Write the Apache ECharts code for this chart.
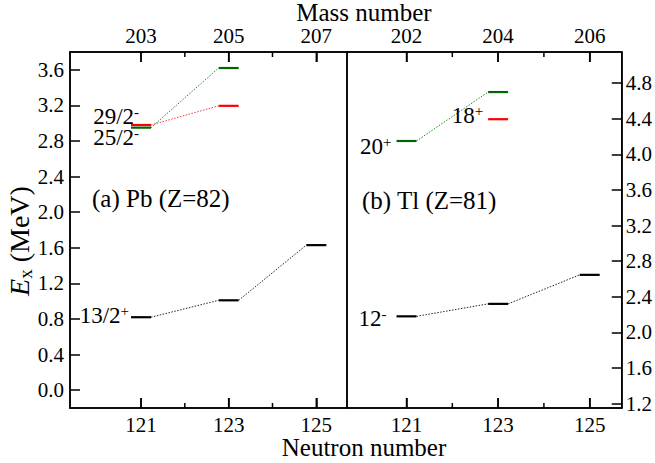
<!DOCTYPE html>
<html>
<head>
<meta charset="utf-8">
<script src="https://cdn.jsdelivr.net/npm/echarts@6/dist/echarts.min.js"></script>
<style>html,body{margin:0;padding:0;background:#fff;}#c{width:655px;height:463px;background:#fff;}</style>
</head>
<body>
<div id="c"></div>
<script>
// ---------- data ----------
const neutronTicks = [121, 123, 125];
const neutronMinorTicks = [122, 124];
const pbMassTicks = [203, 205, 207];
const pbMassMinorTicks = [204, 206];
const tlMassTicks = [202, 204, 206];
const tlMassMinorTicks = [203, 205];
const pbEnergyTicks = [0.0, 0.4, 0.8, 1.2, 1.6, 2.0, 2.4, 2.8, 3.2, 3.6];
const tlEnergyTicks = [1.2, 1.6, 2.0, 2.4, 2.8, 3.2, 3.6, 4.0, 4.4, 4.8];

// Pb (Z=82)
const pbN13 = [121, 123, 125];
const pbE13 = [0.82, 1.01, 1.63];      // 13/2+
const pbN29 = [121, 123];
const pbE29 = [2.98, 3.195];           // 29/2-
const pbN25 = [121, 123];
const pbE25 = [2.95, 3.62];            // 25/2-
// Tl (Z=81)
const tlN12 = [121, 123, 125];
const tlE12 = [2.18, 2.32, 2.646];     // 12-
const tlN20 = [121, 123];
const tlE20 = [4.15, 4.70];            // 20+
const tlN18 = [123];
const tlE18 = [4.395];                 // 18+

const pbZ = 82, tlZ = 81;
const levelLabels = { pb13: ['13/2', '+'], pb29: ['29/2', '-'], pb25: ['25/2', '-'],
                      tl12: ['12', '-'], tl20: ['20', '+'], tl18: ['18', '+'] };
const panelTitles = ['(a) Pb (Z=82)', '(b) Tl (Z=81)'];

// ---------- style ----------
const FONT = 'Liberation Serif';
const HW = 10;
const BLACK = '#000', GREEN = '#006400', RED = '#ff0000';

const bands = [
  { g: 0, n: pbN13, e: pbE13, color: BLACK, conn: '#222', label: levelLabels.pb13, dx: -2, dy: -2 },
  { g: 0, n: pbN29, e: pbE29, color: RED, conn: '#ff3333', label: levelLabels.pb29, dx: 8, dy: -8 },
  { g: 0, n: pbN25, e: pbE25, color: GREEN, conn: '#208a20', label: levelLabels.pb25, dx: 8, dy: 10 },
  { g: 1, n: tlN12, e: tlE12, color: BLACK, conn: '#222', label: levelLabels.tl12, dx: -10, dy: 2 },
  { g: 1, n: tlN20, e: tlE20, color: GREEN, conn: '#208a20', label: levelLabels.tl20, dx: -5, dy: 5 },
  { g: 1, n: tlN18, e: tlE18, color: RED, conn: '#ff3333', label: levelLabels.tl18, dx: -5, dy: -4 }
];

const fmt1 = v => (Math.round(v * 10) / 10).toFixed(1);
function tickStyle() { return { color: '#000', width: 1.5 }; }
function lineOn() { return { show: true, onZero: false, lineStyle: { color: '#000', width: 1.5 } }; }
function lbl(vals, margin) { return { customValues: vals, margin: margin, color: '#000', fontFamily: FONT, fontSize: 21 }; }

const rects = [
  { left: 70, top: 52, width: 277, height: 356 },
  { left: 347, top: 52, width: 276, height: 356 }
];
const xRanges = [[119.38, 125.7], [119.7, 125.7]];
const yRanges = [[-0.2, 3.8], [1.15, 5.15]];
const zs = [pbZ, tlZ];
const massMajor = [pbMassTicks, tlMassTicks];
const massMinor = [pbMassMinorTicks, tlMassMinorTicks];

const grid = [];
const xAxis = [];
for (let g = 0; g < 2; g++) {
  const [mn, mx] = xRanges[g];
  grid.push(Object.assign({ show: true, borderColor: '#000', borderWidth: 1.5 }, rects[g]));
  xAxis.push({ type: 'value', gridIndex: g, position: 'bottom', min: mn, max: mx, splitLine: { show: false }, axisLine: lineOn(),
    axisTick: { show: true, inside: true, length: 10, customValues: neutronTicks.slice(), lineStyle: tickStyle() },
    axisLabel: lbl(neutronTicks.slice(), 6) });
  xAxis.push({ type: 'value', gridIndex: g, position: 'top', min: mn + zs[g], max: mx + zs[g], splitLine: { show: false }, axisLine: lineOn(),
    axisTick: { show: true, inside: true, length: 10, customValues: massMajor[g].slice(), lineStyle: tickStyle() },
    axisLabel: lbl(massMajor[g].slice(), 6) });
}
const yAxis = [
  { type: 'value', gridIndex: 0, position: 'left', min: yRanges[0][0], max: yRanges[0][1], splitLine: { show: false }, axisLine: lineOn(),
    axisTick: { show: true, inside: true, length: 10, customValues: pbEnergyTicks.slice(), lineStyle: tickStyle() },
    axisLabel: Object.assign(lbl(pbEnergyTicks.slice(), 6), { formatter: fmt1 }) },
  { type: 'value', gridIndex: 1, position: 'right', min: yRanges[1][0], max: yRanges[1][1], splitLine: { show: false }, axisLine: lineOn(),
    axisTick: { show: true, inside: true, length: 10, customValues: tlEnergyTicks.slice(), lineStyle: tickStyle() },
    axisLabel: Object.assign(lbl(tlEnergyTicks.slice(), 4), { formatter: fmt1 }) }
];

// tick marks on the horizontal axes, placed through each axis' own scale
function tickSeries(g, xIdx, values, atTop, len) {
  const yEdge = atTop ? yRanges[g][1] : yRanges[g][0];
  return {
    type: 'custom', coordinateSystem: 'cartesian2d', xAxisIndex: xIdx, yAxisIndex: g, silent: true, z: 10,
    data: values.map(v => [v, yEdge]),
    renderItem: function (params, api) {
      const p = api.coord([api.value(0), api.value(1)]);
      const d = atTop ? len : -len;
      return { type: 'group', children: [{ type: 'rect', shape: { x: p[0] - 0.75, y: Math.min(p[1], p[1] + d), width: 1.5, height: len }, style: { fill: '#000' } }] };
    }
  };
}
const tickSeriesList = [];
for (let g = 0; g < 2; g++) {
  tickSeriesList.push(tickSeries(g, g * 2, neutronTicks, false, 10));
  tickSeriesList.push(tickSeries(g, g * 2, neutronMinorTicks, false, 5));
  tickSeriesList.push(tickSeries(g, g * 2 + 1, massMajor[g], true, 10));
  tickSeriesList.push(tickSeries(g, g * 2 + 1, massMinor[g], true, 5));
}

const levelSeries = bands.map(b => ({
  type: 'custom',
  coordinateSystem: 'cartesian2d',
  xAxisIndex: b.g * 2,
  yAxisIndex: b.g,
  data: b.n.map((v, i) => [v, b.e[i]]),
  renderItem: function (params, api) {
    const i = params.dataIndex;
    const p = api.coord([api.value(0), api.value(1)]);
    const children = [{
      type: 'line',
      shape: { x1: p[0] - HW, y1: p[1], x2: p[0] + HW, y2: p[1] },
      style: { stroke: b.color, lineWidth: 2.2 }
    }];
    if (i < b.n.length - 1) {
      const q = api.coord([b.n[i + 1], b.e[i + 1]]);
      children.push({
        type: 'line',
        shape: { x1: p[0] + HW, y1: p[1], x2: q[0] - HW, y2: q[1] },
        style: { stroke: b.conn, lineWidth: 1, lineDash: [1.5, 1.5] }
      });
    }
    if (i === 0 && b.label) {
      children.push({
        type: 'text',
        x: p[0] - HW + b.dx, y: p[1] + b.dy,
        style: {
          text: '{m|' + b.label[0] + '}{s|' + b.label[1] + '}',
          align: 'right', verticalAlign: 'middle',
          rich: {
            m: { fontFamily: FONT, fontSize: 23, fill: '#000', lineHeight: 24 },
            s: { fontFamily: FONT, fontSize: 15, fill: '#000', verticalAlign: 'top', lineHeight: 14 }
          }
        }
      });
    }
    return { type: 'group', children: children };
  }
}));

const option = {
  animation: false,
  grid: grid,
  xAxis: xAxis,
  yAxis: yAxis,
  series: levelSeries.concat(tickSeriesList),
  graphic: [
    { type: 'text', x: 364, y: 12, style: { text: 'Mass number', font: '25px "' + FONT + '"', fill: '#000', align: 'center', verticalAlign: 'middle' } },
    { type: 'text', x: 364, y: 447, style: { text: 'Neutron number', font: '25px "' + FONT + '"', fill: '#000', align: 'center', verticalAlign: 'middle' } },
    { type: 'text', x: 92, y: 198, style: { text: panelTitles[0], font: '25px "' + FONT + '"', fill: '#000', align: 'left', verticalAlign: 'middle' } },
    { type: 'text', x: 362, y: 200, style: { text: panelTitles[1], font: '25px "' + FONT + '"', fill: '#000', align: 'left', verticalAlign: 'middle' } },
    { type: 'text', x: 19, y: 241, rotation: Math.PI / 2,
      style: {
        text: '{e|E}{x|x}{n| (MeV)}', align: 'center', verticalAlign: 'middle',
        rich: {
          e: { fontFamily: FONT, fontSize: 28, fontStyle: 'italic', fill: '#000', lineHeight: 28 },
          x: { fontFamily: FONT, fontSize: 19, fill: '#000', lineHeight: 19, padding: [12, 0, 0, 0] },
          n: { fontFamily: FONT, fontSize: 28, fill: '#000', lineHeight: 28 }
        }
      } }
  ]
};

const chart = echarts.init(document.getElementById('c'), null, { renderer: 'svg' });
chart.setOption(option);
</script>
</body>
</html>
